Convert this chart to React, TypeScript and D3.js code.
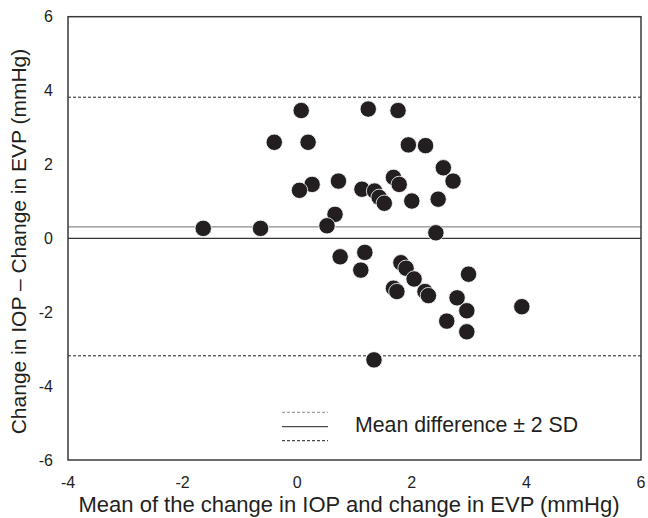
import React, { useEffect, useRef } from "react";
import { select, scaleLinear, range } from "d3";

// mean of the two changes (x) and their difference (y), mmHg
const meanChange = [
  -1.64, -0.64, 0.07, 1.24, 1.76, -0.4, 0.19, 1.94, 2.24, 2.55, 2.72, 0.26,
  0.04, 0.72, 1.13, 1.35, 1.43, 1.52, 1.68, 1.78, 2.0, 2.46, 2.42, 0.66, 0.52,
  0.75, 1.18, 1.11, 1.81, 1.9, 2.04, 1.68, 1.74, 2.23, 2.29, 2.99, 2.79, 2.96,
  2.61, 2.96, 3.92, 1.34,
];
const diffChange = [
  0.27, 0.27, 3.46, 3.5, 3.46, 2.6, 2.6, 2.53, 2.51, 1.91, 1.55, 1.46, 1.3,
  1.55, 1.33, 1.28, 1.11, 0.95, 1.65, 1.46, 1.01, 1.06, 0.15, 0.65, 0.34,
  -0.5, -0.38, -0.86, -0.66, -0.81, -1.1, -1.35, -1.44, -1.44, -1.55, -0.97,
  -1.61, -1.96, -2.24, -2.53, -1.85, -3.29,
];

const meanDiff = 0.31;
const upperLimit = 3.82;
const lowerLimit = -3.18;

const xTicks = range(-4, 7, 2);
const yTicks = range(-6, 7, 2);

const W = 648;
const H = 518;
const FONT = "'Liberation Sans', Arial, sans-serif";
const INK = "#231f20";

const App = () => {
  const svgRef = useRef<SVGSVGElement>(null);

  useEffect(() => {
    const svg = select(svgRef.current);
    svg.selectAll("*").remove();

    const x = scaleLinear().domain([-4, 6]).range([68, 641]);
    const y = scaleLinear().domain([-6, 6]).range([460, 16.7]);

    // reference lines
    const hline = (v: number, color: string, width: number, dash?: string) => {
      const l = svg
        .append("line")
        .attr("x1", x(-4))
        .attr("x2", x(6))
        .attr("y1", y(v))
        .attr("y2", y(v))
        .attr("stroke", color)
        .attr("stroke-width", width);
      if (dash) l.attr("stroke-dasharray", dash);
    };
    hline(upperLimit, INK, 1, "3,2");
    hline(lowerLimit, INK, 1, "3,2");
    hline(meanDiff, "#6d6d6d", 1);
    hline(0, "#333", 1.4);

    // frame
    svg
      .append("rect")
      .attr("x", x(-4))
      .attr("y", y(6))
      .attr("width", x(6) - x(-4))
      .attr("height", y(-6) - y(6))
      .attr("fill", "none")
      .attr("stroke", "#3a3a3a")
      .attr("stroke-width", 1.5);

    // points
    svg
      .append("g")
      .selectAll("circle")
      .data(meanChange.map((m, i) => [m, diffChange[i]]))
      .enter()
      .append("circle")
      .attr("cx", (d) => x(d[0]))
      .attr("cy", (d) => y(d[1]))
      .attr("r", 8.2)
      .attr("fill", INK)
      .attr("stroke", "#fff")
      .attr("stroke-width", 0.8);

    // tick labels
    svg
      .append("g")
      .selectAll("text")
      .data(xTicks)
      .enter()
      .append("text")
      .attr("x", (d) => x(d))
      .attr("y", 487.5)
      .attr("text-anchor", "middle")
      .attr("font-family", FONT)
      .attr("font-size", 16)
      .attr("fill", INK)
      .text((d) => String(d));

    svg
      .append("g")
      .selectAll("text")
      .data(yTicks)
      .enter()
      .append("text")
      .attr("x", 53)
      .attr("y", (d) => y(d) + 5.5)
      .attr("text-anchor", "end")
      .attr("font-family", FONT)
      .attr("font-size", 16)
      .attr("fill", INK)
      .text((d) => String(d));

    // axis titles
    svg
      .append("text")
      .attr("x", 349)
      .attr("y", 512)
      .attr("text-anchor", "middle")
      .attr("font-family", FONT)
      .attr("font-size", 22)
      .attr("fill", INK)
      .text("Mean of the change in IOP and change in EVP (mmHg)");

    svg
      .append("text")
      .attr("transform", "translate(25.5,241.5) rotate(-90)")
      .attr("text-anchor", "middle")
      .attr("font-family", FONT)
      .attr("font-size", 21)
      .attr("fill", INK)
      .text("Change in IOP \u2013 Change in EVP (mmHg)");

    // legend
    const legend = svg.append("g");
    const legendLine = (ly: number, color: string, dash?: string) => {
      const l = legend
        .append("line")
        .attr("x1", 282)
        .attr("x2", 328)
        .attr("y1", ly)
        .attr("y2", ly)
        .attr("stroke", color)
        .attr("stroke-width", 1);
      if (dash) l.attr("stroke-dasharray", dash);
    };
    legendLine(412.3, "#8a8a8a", "3,2");
    legendLine(426.7, INK);
    legendLine(440.7, INK, "3,2");
    legend
      .append("text")
      .attr("x", 355)
      .attr("y", 431.5)
      .attr("font-family", FONT)
      .attr("font-size", 21.3)
      .attr("fill", INK)
      .text("Mean difference \u00b1 2 SD");
  }, []);

  return (
    <svg
      ref={svgRef}
      width={W}
      height={H}
      style={{ position: "absolute", left: 0, top: 0, display: "block", background: "#fff" }}
    />
  );
};

export default App;
